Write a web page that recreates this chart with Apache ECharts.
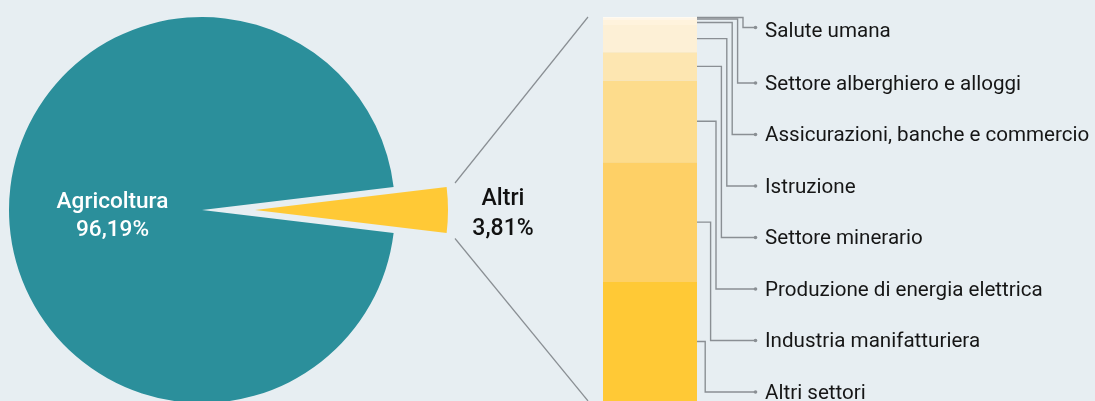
<!DOCTYPE html>
<html>
<head>
<meta charset="utf-8">
<script src="https://cdn.jsdelivr.net/npm/echarts@6/dist/echarts.min.js"></script>
<style>
html,body{margin:0;padding:0;background:#e7eef2;}
#chart{width:1095px;height:401px;}
</style>
</head>
<body>
<div id="chart"></div>
<script>
// ---- data ----
const pieNames = ['Altri', 'Agricoltura'];
const pieValues = [3.81, 96.19];
const sectors = ['Salute umana', 'Settore alberghiero e alloggi', 'Assicurazioni, banche e commercio', 'Istruzione', 'Settore minerario', 'Produzione di energia elettrica', 'Industria manifatturiera', 'Altri settori'];
const sectorValues = [0.01, 0.02, 0.05, 0.27, 0.28, 0.81, 1.19, 1.18];

// ---- styles ----
const sectorColors = ['#fffaf1', '#fff6e8', '#fff3dd', '#fdf0d6', '#fde6b1', '#fddc8c', '#fed066', '#ffc936'];
const teal = '#2b8f9b';
const yellow = '#ffc936';
const lineColor = '#8a8f94';
const FONT = 'Roboto, "Noto Sans", sans-serif';

const fmt = v => v.toFixed(2).replace('.', ',') + '%';
const total = sectorValues.reduce((a, b) => a + b, 0);

// stacked bars, bottom to top
const barSeries = [];
for (let i = sectors.length - 1; i >= 0; i--) {
  barSeries.push({
    type: 'bar', name: sectors[i], stack: 'tot', data: [sectorValues[i]],
    barCategoryGap: '0%', itemStyle: { color: sectorColors[i] },
    silent: true, emphasis: { disabled: true }
  });
}

// connector data: [x, mid of segment, index]
const connData = sectors.map((s, i) => {
  let below = 0;
  for (let j = i + 1; j < sectorValues.length; j++) below += sectorValues[j];
  return [0, below + sectorValues[i] / 2, i];
});

const chart = echarts.init(document.getElementById('chart'), null, { renderer: 'canvas' });
chart.setOption({
  backgroundColor: '#e7eef2',
  animation: false,
  textStyle: { fontFamily: FONT },
  grid: { left: 603, top: 17, width: 94, height: 386 },
  xAxis: { type: 'category', data: ['Altri'], show: false },
  yAxis: { type: 'value', min: 0, max: total, show: false },
  series: [
    {
      type: 'pie',
      center: [202, 210],
      radius: 193,
      startAngle: pieValues[0] / (pieValues[0] + pieValues[1]) * 180,
      clockwise: true,
      selectedMode: 'single',
      selectedOffset: 53,
      silent: true,
      emphasis: { disabled: true },
      labelLine: { show: false, length: 15, length2: 0 },
      data: [
        {
          name: pieNames[0], value: pieValues[0], selected: true,
          itemStyle: { color: yellow },
          label: {
            position: 'outside',
            padding: [9, 0, 0, 0],
            formatter: p => '{a|' + p.name + '}\n{a|' + fmt(p.value) + '}',
            rich: { a: { width: 70, align: 'center', fontSize: 23, fontWeight: 500, color: '#111', lineHeight: 30, fontFamily: FONT } }
          }
        },
        {
          name: pieNames[1], value: pieValues[1],
          itemStyle: { color: teal },
          label: {
            position: 'inside',
            padding: [0, 0, 0, 20],
            formatter: p => '{s|}\n{a|' + p.name + '}\n{a|' + fmt(p.value) + '}',
            rich: {
              s: { lineHeight: 12, fontSize: 1 },
              a: { color: '#fff', fontSize: 22.6, fontWeight: 500, lineHeight: 28, fontFamily: FONT, align: 'center', width: 115 }
            }
          }
        }
      ]
    },
    ...barSeries,
    {
      type: 'custom',
      coordinateSystem: 'cartesian2d',
      clip: false,
      silent: true,
      z: 10,
      data: connData,
      renderItem: function (params, api) {
        const idx = api.value(2);
        const p = api.coord([0, api.value(1)]);
        const bw = api.size([1, 0])[0];
        const xRight = p[0] + bw / 2;
        const vx = 743 - 5.4 * idx;
        const ly = idx === 0 ? 27.5 : 83 + (idx - 1) * 51.5;
        const ty = idx === 0 ? 32 : ly + 1.5;
        const children = [
          { type: 'polyline', shape: { points: [[xRight, p[1]], [vx, p[1]], [vx, ly], [755, ly]] },
            style: { stroke: lineColor, lineWidth: 1.4, fill: null } },
          { type: 'circle', shape: { cx: 755.5, cy: ly, r: 1.8 }, style: { fill: lineColor } },
          { type: 'text', x: 765, y: ty, style: { text: sectors[idx], fontSize: 20.6, fontFamily: FONT, fill: '#161616', verticalAlign: 'middle', align: 'left' } }
        ];
        if (idx === 0) {
          const top = api.coord([0, total])[1];
          const bot = api.coord([0, 0])[1];
          const xl = p[0] - bw / 2 - 15;
          children.push({ type: 'line', shape: { x1: 455, y1: 183, x2: xl, y2: top }, style: { stroke: lineColor, lineWidth: 1.2 } });
          children.push({ type: 'line', shape: { x1: 455, y1: 238.5, x2: xl, y2: bot }, style: { stroke: lineColor, lineWidth: 1.2 } });
        }
        return { type: 'group', children: children };
      }
    }
  ]
});
</script>
</body>
</html>
